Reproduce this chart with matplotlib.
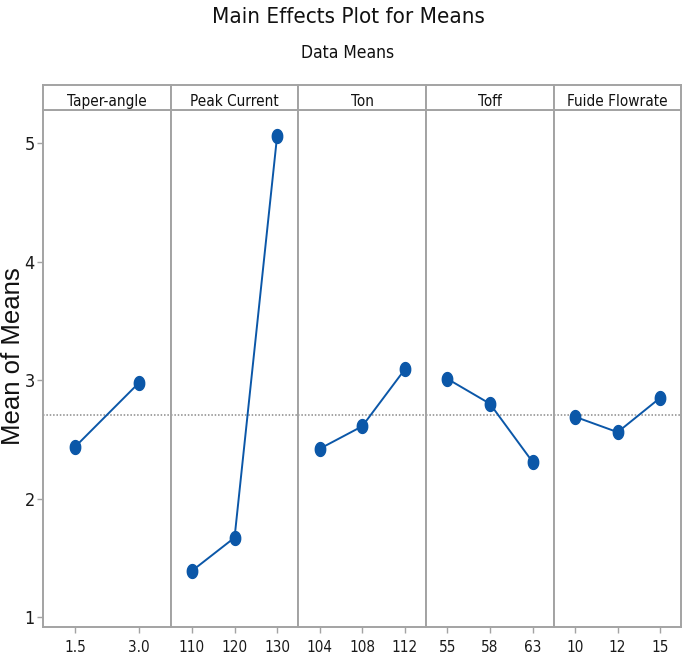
import numpy as np
import matplotlib
matplotlib.use('Agg')
import matplotlib.pyplot as plt
from matplotlib.path import Path

# data
factors = ['Taper-angle', 'Peak Current', 'Ton', 'Toff', 'Fuide Flowrate']
taper_levels = ['1.5', '3.0']
taper_means = [2.435, 2.975]
peak_levels = ['110', '120', '130']
peak_means = [1.39, 1.67, 5.06]
ton_levels = ['104', '108', '112']
ton_means = [2.42, 2.61, 3.09]
toff_levels = ['55', '58', '63']
toff_means = [3.01, 2.80, 2.31]
flow_levels = ['10', '12', '15']
flow_means = [2.69, 2.56, 2.85]
grand_mean = 2.705

levels = [taper_levels, peak_levels, ton_levels, toff_levels, flow_levels]
means = [taper_means, peak_means, ton_means, toff_means, flow_means]

cond = dict(family='DejaVu Sans', stretch='condensed')
blue = '#0B57A8'
frame = '#A3A3A3'

# ellipse marker (taller than wide)
t = np.linspace(0, 2*np.pi, 40)
ell = Path(np.column_stack([0.75*np.cos(t), np.sin(t)]))

W, H = 685, 657
fig = plt.figure(figsize=(W/100, H/100), dpi=100)

left, right = 43/W, 681.5/W
bot, top, htop = (H-627)/H, (H-109.5)/H, (H-85)/H
pw = (right-left)/5

for i in range(5):
    x0 = left + i*pw
    ax = fig.add_axes([x0, bot, pw, top-bot])
    n = len(levels[i])
    xs = np.arange(n)
    ax.plot(xs, means[i], color=blue, lw=1.4, marker=ell, ms=10,
            mfc=blue, mec=blue, zorder=3)
    ax.axhline(grand_mean, color='#8A8A8A', lw=1.1, ls=(0, (1, 1.2)), zorder=2)
    ax.set_xlim(-0.5, n-0.5)
    ax.set_ylim(0.916, 5.283)
    ax.set_xticks(xs)
    ax.set_xticklabels(levels[i], fontsize=11, color='#1A1A1A', **cond)
    ax.tick_params(axis='x', length=4, width=1, color=frame, pad=5)
    if i == 0:
        ax.set_yticks([1, 2, 3, 4, 5])
        ax.set_yticklabels(['1', '2', '3', '4', '5'], fontsize=13, color='#1A1A1A', **cond)
        ax.tick_params(axis='y', length=4, width=1, color=frame, pad=2)
    else:
        ax.set_yticks([])
    for s in ax.spines.values():
        s.set_color(frame)
        s.set_linewidth(1.4)

    hx = fig.add_axes([x0, top, pw, htop-top])
    hx.set_xticks([])
    hx.set_yticks([])
    for s in hx.spines.values():
        s.set_color(frame)
        s.set_linewidth(1.4)
    hx.text(0.5, 0.14, factors[i], ha='center', va='baseline',
            fontsize=11, color='#111111', transform=hx.transAxes, **cond)

fig.text(348/W, 1-22.7/H, 'Main Effects Plot for Means', ha='center', va='baseline',
         fontsize=16, color='#111111', **cond)
fig.text(348/W, 1-58.3/H, 'Data Means', ha='center', va='baseline',
         fontsize=12.5, color='#111111', **cond)
fig.text(13/W, 1-356/H, 'Mean of Means', rotation=90, ha='center', va='center',
         family=['Liberation Sans', 'DejaVu Sans'], fontsize=18.5,
         color='#111111')

plt.savefig('out.png', dpi=100)
